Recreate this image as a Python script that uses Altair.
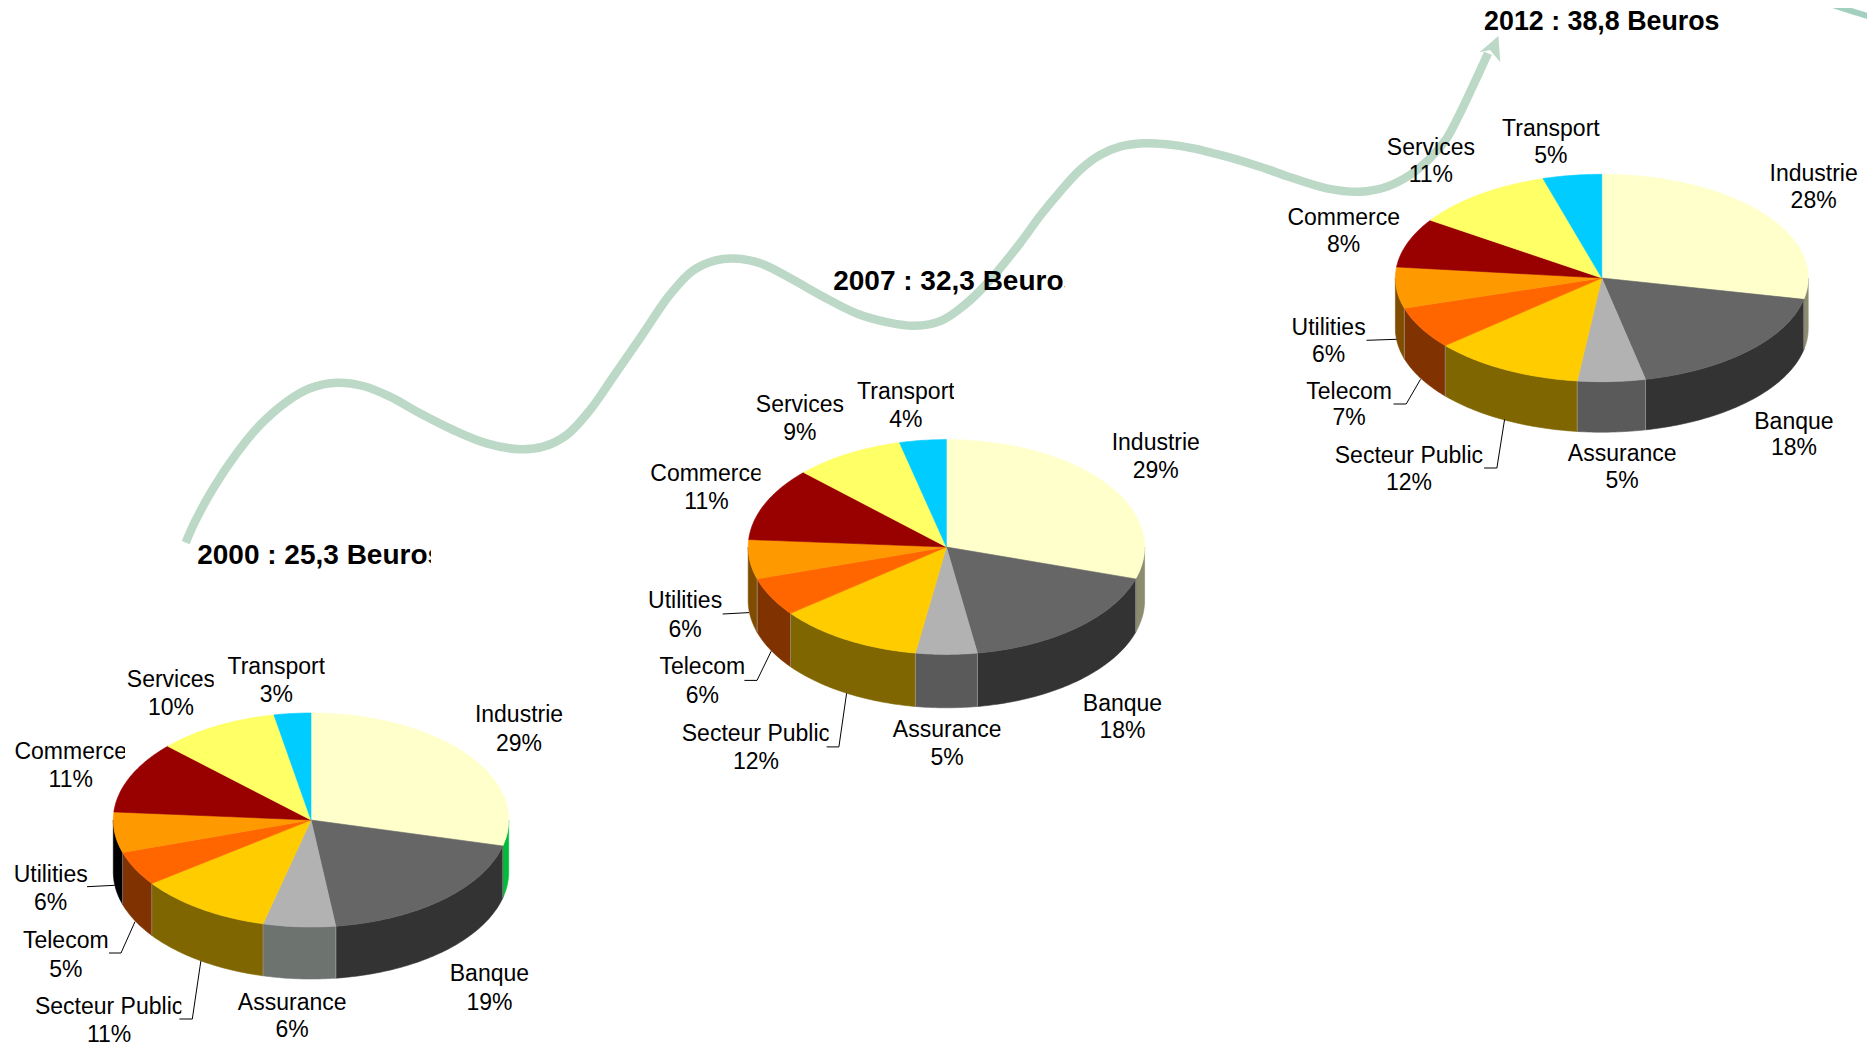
import math
import altair as alt
import pandas as pd

# ---- values ----
SECTORS = ["Industrie", "Banque", "Assurance", "Secteur Public", "Telecom",
           "Utilities", "Commerce", "Services", "Transport"]
# percentages as printed on the labels
LABELS_2000 = [29, 19, 6, 11, 5, 6, 11, 10, 3]
LABELS_2007 = [29, 18, 5, 12, 6, 6, 11, 9, 4]
LABELS_2012 = [28, 18, 5, 12, 7, 6, 8, 11, 5]
# slice sizes as measured on the drawn pies (the labels are rounded)
SHARES_2000 = [28.9, 19.1, 5.9, 11.0, 5.2, 6.1, 10.9, 9.9, 3.0]
SHARES_2007 = [29.8, 17.7, 5.0, 11.9, 5.8, 5.9, 11.1, 9.0, 3.8]
SHARES_2012 = [28.3, 18.3, 5.3, 11.8, 6.6, 6.4, 7.7, 11.0, 4.6]
TITLES = ["2000 : 25,3 Beuros", "2007 : 32,3 Beuros", "2012 : 38,8 Beuros"]

CURVE_X = [185.7, 195, 213.3, 236.7, 260, 286.7, 310, 336.7, 363.3, 390, 420, 453.3, 486.7,
           520, 543.3, 566.7, 590, 613.3, 641.5, 669.8, 692.7, 715.7, 734.8, 761.6, 792.2,
           822.8, 857.3, 887.9, 914.7, 941.5, 964.4, 987.4, 1020, 1040, 1060, 1080,
           1100, 1120, 1143.3, 1166.7, 1193.3, 1226.7, 1260, 1293.3, 1326.7, 1360, 1386.7,
           1410, 1430, 1446.7, 1460, 1472, 1488]
CURVE_Y = [542.7, 521.7, 488.3, 453.3, 425, 401.7, 388.3, 382.7, 386, 396.7, 413.3, 430, 443.3,
           449.3, 446.7, 435, 410, 376.7, 336, 294.8, 270.7, 260.3, 258.6, 263.8, 279.3,
           296.5, 313.7, 322.3, 325.8, 320.6, 305.1, 283, 243.3, 216, 191.7, 170,
           155, 146.7, 143.3, 144.3, 148.3, 156.7, 166.7, 178.3, 188.3, 191.7, 186.7,
           175, 158.3, 138.3, 113.3, 88, 53.3]
CURVE2_X = [1810, 1844.8, 1878]
CURVE2_Y = [-3, 9, 19]
ARROW_X = [1498.4, 1479.5, 1490, 1500.3]
ARROW_Y = [36, 52.3, 50, 62.3]

# ---- layout and style ----
TOP_COLORS = ["#FFFFCC", "#666666", "#B2B2B2", "#FFCC00", "#FF6600",
              "#FF9900", "#990000", "#FFFF66", "#00CCFF"]
SIDES = {
    0: ["#00BC3A", "#333333", "#6D736F", "#806600", "#803300", "#000000", "#4D0000", "#808033", "#006680"],
    1: ["#8C8C70", "#333333", "#5A5A5A", "#806600", "#803300", "#804C00", "#4D0000", "#808033", "#006680"],
    2: ["#8C8C70", "#333333", "#5A5A5A", "#806600", "#803300", "#804C00", "#4D0000", "#808033", "#006680"],
}
PIES = [
    dict(shares=SHARES_2000, pct=LABELS_2000, cx=311.0, cy=820.0, rx=197.7, ry=107.0, depth=52.0, dy=3.0),
    dict(shares=SHARES_2007, pct=LABELS_2007, cx=946.4, cy=547.0, rx=198.2, ry=107.4, depth=53.4, dy=1.5),
    dict(shares=SHARES_2012, pct=LABELS_2012, cx=1601.8, cy=278.0, rx=206.4, ry=103.7, depth=50.5, dy=1.5),
]
# label centre x, name line y, percent line y, clip x of the name line (None: not clipped)
LABEL_POS = [
    [(519, 711.7, 740.7, 563), (489.4, 971, 1000, 529), (292.2, 1000, 1027, 347),
     (109.1, 1004.3, 1031.7, 181.3), (65.8, 937.7, 966.7, 108.5), (50.7, 872, 900, None),
     (70.7, 749.3, 776.7, 125), (170.9, 677.3, 705, 213.8), (276.3, 664.3, 692.3, 324.8)],
    [(1155.8, 441, 469.7, 1199.8), (1122.5, 702, 729.7, 1162.3), (947.2, 728.7, 756.9, 1000.8),
     (755.9, 732.1, 760.7, 828.6), (702.3, 665.6, 694.2, 745.1), (685.1, 599.9, 628.1, 722.6),
     (706.5, 472.8, 500.7, 760.5), (799.9, 403.9, 431.8, 843.9), (905.9, 390.2, 418.7, 954.1)],
    [(1813.6, 172.3, 199.3, None), (1793.9, 420.7, 446.7, None), (1622.2, 452.3, 479.3, None),
     (1408.9, 454, 481, None), (1349.1, 390.7, 416.7, None), (1328.6, 326, 353.3, None),
     (1343.7, 216.3, 243.3, None), (1430.9, 146, 173.3, None), (1550.9, 127, 154.3, None)],
]
TITLE_POS = [(197.2, 556.3, 430.9, 28), (833.2, 281.8, 1065, 28), (1484.1, 21.7, None, 26.8)]
LEADERS = [
    [(87, 886.7), (114.7, 885.3)],
    [(109, 953), (121, 953), (135, 921.7)],
    [(179.4, 1019), (192.3, 1019), (200.9, 960.7)],
    [(722.6, 614), (749, 612.6)],
    [(744.4, 680.4), (757, 680.4), (771.2, 651.2)],
    [(826.7, 746.9), (838.9, 746.9), (846.6, 693.2)],
    [(1366.5, 340.3), (1396.5, 339.3)],
    [(1393.5, 404), (1406.2, 404), (1420.5, 379.3)],
    [(1484.1, 468), (1496.9, 468), (1504.6, 419.3)],
]
FONT = "Liberation Sans"
CURVE_COLOR = "#BCD8C6"
CURVE2_COLOR = "#A3D0BE"

W, H = 1859, 1037
X = alt.X("x:Q", scale=alt.Scale(domain=[8, 1867], nice=False, zero=False), axis=None)
Y = alt.Y("y:Q", scale=alt.Scale(domain=[1045, 8], nice=False, zero=False), axis=None)


def point(p, deg, drop=0.0):
    a = math.radians(deg)
    return p["cx"] + p["rx"] * math.sin(a), p["cy"] - p["ry"] * math.cos(a) + drop


top_rows, side_rows, seam_rows = [], [], []
for pi, p in enumerate(PIES):
    start = 0.0
    total = sum(p["shares"])
    for si, share in enumerate(p["shares"]):
        end = start + share / total * 360.0
        key = f"{pi}-{si}"
        steps = max(2, int(end - start) + 1)
        arc = [start + (end - start) * k / steps for k in range(steps + 1)]
        pts = [(p["cx"], p["cy"])] + [point(p, d) for d in arc]
        for k, (x, y) in enumerate(pts):
            top_rows.append(dict(x=x, y=y, k=k, g=key, c=TOP_COLORS[si]))
        lo, hi = max(start, 90.0), min(end, 270.0)
        if lo < hi:
            n = max(2, int(hi - lo) + 1)
            vis = [lo + (hi - lo) * k / n for k in range(n + 1)]
            ring = [point(p, d) for d in vis] + [point(p, d, p["depth"]) for d in reversed(vis)]
            for k, (x, y) in enumerate(ring):
                side_rows.append(dict(x=x, y=y, k=k, g=key, c=SIDES[pi][si]))
            if 90.0 < end < 270.0:
                for k, drop in enumerate((0.0, p["depth"])):
                    x, y = point(p, end, drop)
                    seam_rows.append(dict(x=x, y=y, k=k, g=key))
        start = end

text_rows, title_rows, mask_rows = [], [], []
for pi, p in enumerate(PIES):
    for si, name in enumerate(SECTORS):
        cx, y1, y2, clip = LABEL_POS[pi][si]
        y1 += p["dy"]
        y2 += p["dy"]
        text_rows.append(dict(x=cx, y=y1, t=name))
        text_rows.append(dict(x=cx, y=y2, t=f"{p['pct'][si]}%"))
        if clip is not None:
            mask_rows.append(dict(x=clip, x2=clip + 12, y=y1 - 14, y2=y1 + 14))
    tx, ty, tclip, tsize = TITLE_POS[pi]
    title_rows.append(dict(x=tx, y=ty, t=TITLES[pi], s=tsize))
    if tclip is not None:
        mask_rows.append(dict(x=tclip, x2=tclip + 30, y=ty - 17, y2=ty + 17))

leader_rows = [dict(x=x, y=y, k=k, g=i) for i, seg in enumerate(LEADERS) for k, (x, y) in enumerate(seg)]
curve_df = pd.DataFrame({"x": CURVE_X, "y": CURVE_Y})
curve2_df = pd.DataFrame({"x": CURVE2_X, "y": CURVE2_Y})
arrow_df = pd.DataFrame({"x": ARROW_X, "y": ARROW_Y, "k": range(len(ARROW_X))})


def polygons(rows):
    return alt.Chart(pd.DataFrame(rows)).mark_line(filled=True, strokeWidth=0.6, interpolate="linear-closed").encode(
        x=X, y=Y, order="k:Q", detail="g:N",
        fill=alt.Fill("c:N", scale=None),
        stroke=alt.Stroke("c:N", scale=None),
    )


curve = alt.Chart(curve_df).mark_line(color=CURVE_COLOR, strokeWidth=8.5, interpolate="catmull-rom").encode(x=X, y=Y)
curve2 = alt.Chart(curve2_df).mark_line(color=CURVE2_COLOR, strokeWidth=6, interpolate="catmull-rom", clip=True).encode(x=X, y=Y)
arrow = alt.Chart(arrow_df).mark_line(filled=True, fill=CURVE_COLOR, strokeWidth=0, interpolate="linear-closed").encode(x=X, y=Y, order="k:Q")
labels = alt.Chart(pd.DataFrame(text_rows)).mark_text(font=FONT, fontSize=23, color="#000000", align="center", baseline="middle").encode(x=X, y=Y, text="t:N")
titles = alt.Chart(pd.DataFrame(title_rows)).mark_text(font=FONT, fontWeight="bold", color="#000000", align="left", baseline="middle").encode(
    x=X, y=Y, text="t:N", size=alt.Size("s:Q", scale=None, legend=None))
masks = alt.Chart(pd.DataFrame(mask_rows)).mark_rect(color="#FFFFFF").encode(x=X, x2="x2:Q", y=Y, y2="y2:Q")
seams = alt.Chart(pd.DataFrame(seam_rows)).mark_line(color="#AAAAAA", strokeWidth=0.6).encode(x=X, y=Y, order="k:Q", detail="g:N")
leaders = alt.Chart(pd.DataFrame(leader_rows)).mark_line(color="#000000", strokeWidth=1).encode(x=X, y=Y, order="k:Q", detail="g:N")

chart = alt.layer(
    curve, curve2, arrow, labels, titles, masks,
    polygons(side_rows), seams, polygons(top_rows), leaders,
).properties(
    width=W, height=H, padding=0, background="#FFFFFF",
    autosize=alt.AutoSizeParams(type="none"),
).configure_view(stroke=None)

chart.save("out.html", embed_options={"renderer": "svg", "actions": False})
